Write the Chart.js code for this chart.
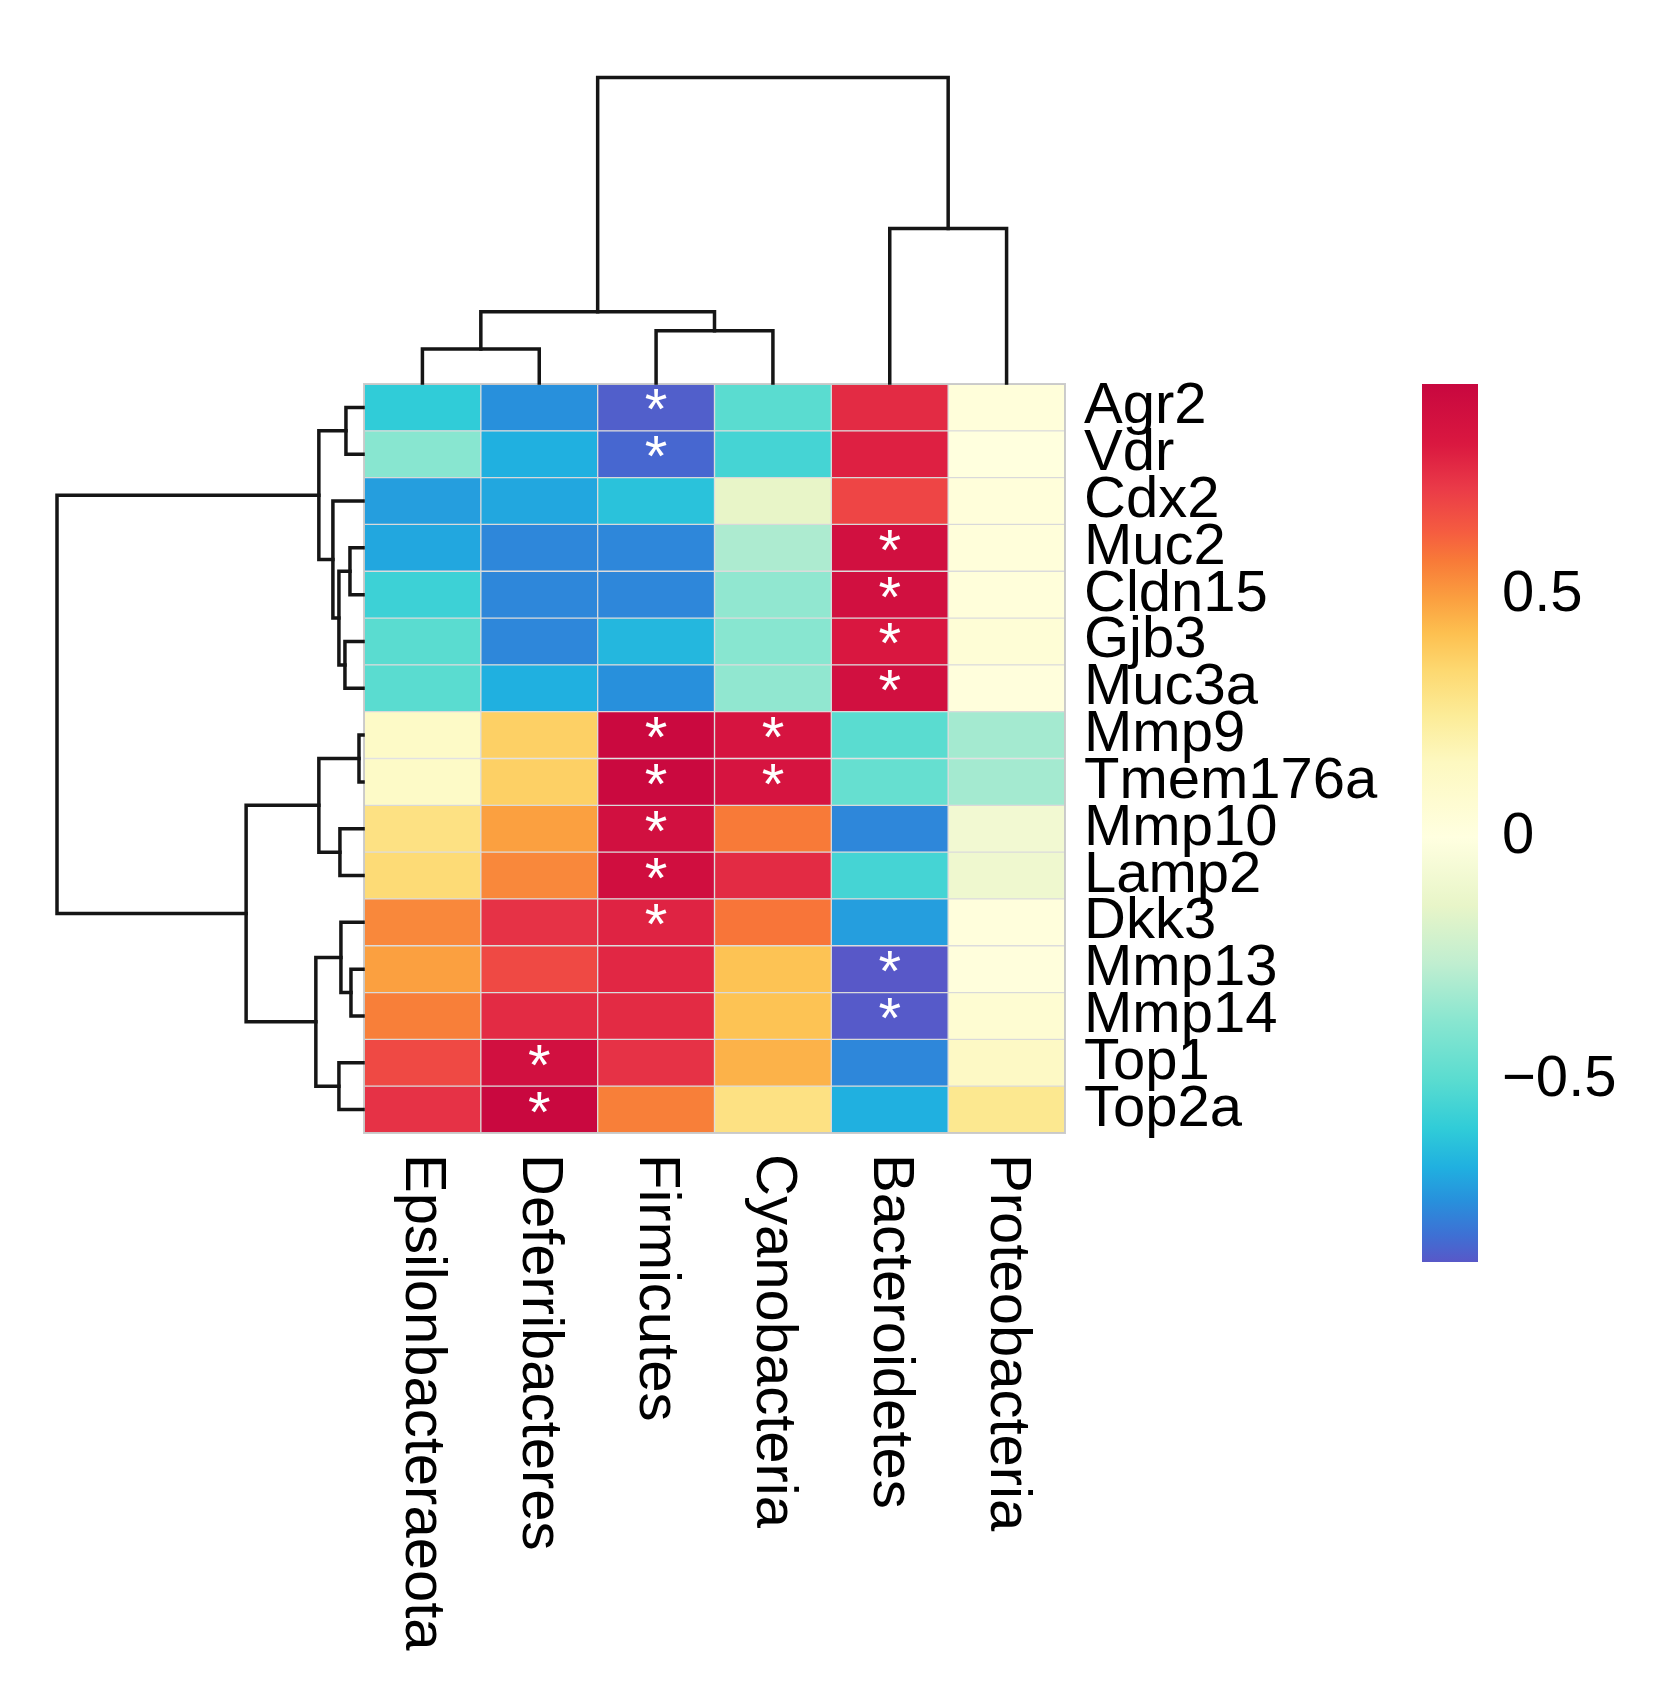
<!DOCTYPE html>
<html>
<head>
<meta charset="utf-8">
<script src="https://cdn.jsdelivr.net/npm/chart.js@4.4.1/dist/chart.umd.min.js"></script>
<style>
  html, body { margin: 0; padding: 0; background: #fff; }
  #wrap { position: relative; width: 1660px; height: 1687px; background: #fff; }
  #wrap canvas { position: absolute; left: 0; top: 0; }
</style>
</head>
<body>
<div id="wrap">
  <canvas id="heat" width="1660" height="1687"></canvas>
  <canvas id="colTree" width="1660" height="1687"></canvas>
  <canvas id="rowTree" width="1660" height="1687"></canvas>
  <canvas id="scaleBar" width="1660" height="1687"></canvas>
</div>
<script>
const FONT = '"Liberation Sans", Arial, Helvetica, sans-serif';
const FSIZE = 58;

const phyla = ['Epsilonbacteraeota', 'Deferribacteres', 'Firmicutes', 'Cyanobacteria', 'Bacteroidetes', 'Proteobacteria'];
const genes = ['Agr2', 'Vdr', 'Cdx2', 'Muc2', 'Cldn15', 'Gjb3', 'Muc3a', 'Mmp9', 'Tmem176a', 'Mmp10', 'Lamp2', 'Dkk3', 'Mmp13', 'Mmp14', 'Top1', 'Top2a'];

// correlation of each phylum with each gene (gene order as above)
const epsilonbacteraeota = [-0.60, -0.38, -0.72, -0.70, -0.57, -0.50, -0.50, 0.12, 0.12, 0.30, 0.33, 0.54, 0.49, 0.56, 0.68, 0.74];
const deferribacteres    = [-0.75, -0.68, -0.70, -0.77, -0.77, -0.77, -0.68, 0.37, 0.37, 0.49, 0.54, 0.74, 0.68, 0.76, 0.87, 0.93];
const firmicutes         = [-0.86, -0.84, -0.63, -0.77, -0.77, -0.66, -0.75, 0.92, 0.92, 0.87, 0.88, 0.78, 0.77, 0.76, 0.74, 0.56];
const cyanobacteria      = [-0.50, -0.55, -0.14, -0.30, -0.36, -0.38, -0.36, 0.84, 0.84, 0.57, 0.76, 0.58, 0.41, 0.41, 0.45, 0.30];
const bacteroidetes      = [0.76, 0.79, 0.69, 0.87, 0.87, 0.82, 0.87, -0.50, -0.47, -0.77, -0.55, -0.72, -0.875, -0.87, -0.77, -0.68];
const proteobacteria     = [0.03, 0.01, 0.03, 0.03, 0.03, 0.05, 0.02, -0.32, -0.32, -0.08, -0.10, 0.02, 0.02, 0.07, 0.13, 0.27];
const columns = [epsilonbacteraeota, deferribacteres, firmicutes, cyanobacteria, bacteroidetes, proteobacteria];

// significant cells (gene, phylum)
const stars = [
  ['Agr2', 'Firmicutes'], ['Vdr', 'Firmicutes'],
  ['Muc2', 'Bacteroidetes'], ['Cldn15', 'Bacteroidetes'], ['Gjb3', 'Bacteroidetes'], ['Muc3a', 'Bacteroidetes'],
  ['Mmp9', 'Firmicutes'], ['Mmp9', 'Cyanobacteria'], ['Tmem176a', 'Firmicutes'], ['Tmem176a', 'Cyanobacteria'],
  ['Mmp10', 'Firmicutes'], ['Lamp2', 'Firmicutes'], ['Dkk3', 'Firmicutes'],
  ['Mmp13', 'Bacteroidetes'], ['Mmp14', 'Bacteroidetes'],
  ['Top1', 'Deferribacteres'], ['Top2a', 'Deferribacteres']
];

// clustering (hclust style: negative = leaf, positive = earlier merge)
const colMerge = [[-1, -2], [-3, -4], [1, 2], [-5, -6], [3, 4]];
const colHeights = [34, 52, 71, 154, 304.5];
const rowMerge = [[-1, -2], [-4, -5], [-6, -7], [2, 3], [-3, 4], [1, 5], [-8, -9], [-10, -11], [7, 8],
                  [-13, -14], [-12, 10], [-15, -16], [11, 12], [9, 13], [6, 14]];
const rowHeights = [17, 13, 18, 24, 30, 44, 4, 23, 44, 12, 22, 24, 47, 116.5, 305];

// colour key
const cbMin = -0.875, cbMax = 0.934;
const scaleTicks = [-0.5, 0, 0.5];
const paletteValues = [-0.875, -0.82, -0.75, -0.68, -0.60, -0.50, -0.38, -0.26, -0.14, 0, 0.155, 0.25, 0.345, 0.42, 0.49, 0.57, 0.63, 0.72, 0.81, 0.934];
const paletteColors = ['#5858c8', '#3e70d4', '#2890dc', '#20b0e0', '#30ccd8', '#5adcd0', '#88e6d0', '#c0eed0', '#e8f5c8', '#ffffe0',
                       '#fdf8c0', '#fcec98', '#fdd870', '#fdc050', '#fba040', '#f87a38', '#f55c40', '#ea3a48', '#da1840', '#c8073f'];

function hexRgb(h) { return [1, 3, 5].map(i => parseInt(h.slice(i, i + 2), 16)); }

function colorFor(v) {
  if (v <= paletteValues[0]) return paletteColors[0];
  for (let i = 1; i < paletteValues.length; i++) {
    if (v <= paletteValues[i]) {
      const t = (v - paletteValues[i - 1]) / (paletteValues[i] - paletteValues[i - 1]);
      const a = hexRgb(paletteColors[i - 1]), b = hexRgb(paletteColors[i]);
      const c = a.map((x, k) => Math.round(x + (b[k] - x) * t));
      return `rgb(${c[0]},${c[1]},${c[2]})`;
    }
  }
  return paletteColors[paletteColors.length - 1];
}

// U-shaped segments of a dendrogram, in (position, height) pairs
function treeSegments(merge, heights, horizontal) {
  const pos = [];
  const info = n => n < 0 ? { p: -n - 1 + 0.5, h: 0 } : { p: pos[n - 1], h: heights[n - 1] };
  return merge.map(([a, b], k) => {
    const A = info(a), B = info(b), H = heights[k];
    pos[k] = (A.p + B.p) / 2;
    const pts = [[A.p, A.h], [A.p, H], [B.p, H], [B.p, B.h]];
    return {
      data: pts.map(([p, h]) => horizontal ? { x: h, y: p } : { x: p, y: h }),
      showLine: true, fill: false, pointRadius: 0, borderColor: '#151515', borderWidth: 3.5,
      borderJoinStyle: 'miter', borderCapStyle: 'square', clip: false
    };
  });
}

const baseOpts = {
  responsive: false, animation: false, devicePixelRatio: 1,
  plugins: { legend: { display: false }, tooltip: { enabled: false } }
};

const cellMarks = {
  id: 'cellMarks',
  afterDatasetsDraw(chart) {
    const { ctx, chartArea, scales: { x, y } } = chart;
    ctx.save();
    ctx.strokeStyle = 'rgba(200,200,200,0.9)';
    ctx.lineWidth = 2;
    ctx.strokeRect(chartArea.left, chartArea.top, chartArea.right - chartArea.left, chartArea.bottom - chartArea.top);
    ctx.fillStyle = '#ffffff';
    ctx.font = `${FSIZE}px ${FONT}`;
    ctx.textAlign = 'center';
    ctx.textBaseline = 'alphabetic';
    stars.forEach(([g, p]) => {
      const cx = x.getPixelForValue(phyla.indexOf(p) + 0.5);
      const cy = y.getPixelForValue(genes.indexOf(g));
      ctx.fillText('*', cx, cy + 22);
    });
    ctx.restore();
  },
  afterDraw(chart) {
    const { ctx, chartArea, scales: { x } } = chart;
    ctx.save();
    ctx.fillStyle = '#000';
    ctx.font = `${FSIZE}px ${FONT}`;
    ctx.textAlign = 'left';
    ctx.textBaseline = 'middle';
    phyla.forEach((p, c) => {
      ctx.save();
      ctx.translate(x.getPixelForValue(c + 0.5), chartArea.bottom + 21);
      ctx.rotate(Math.PI / 2);
      ctx.fillText(p, 0, 0);
      ctx.restore();
    });
    ctx.restore();
  }
};

new Chart(document.getElementById('heat'), {
  type: 'bar',
  data: {
    labels: genes,
    datasets: phyla.map((p, c) => ({
      label: p,
      data: genes.map(() => [c, c + 1]),
      backgroundColor: columns[c].map(colorFor),
      borderColor: 'rgba(212,212,212,0.8)',
      borderWidth: 1,
      borderSkipped: false,
      grouped: false,
      barPercentage: 1,
      categoryPercentage: 1
    }))
  },
  options: {
    ...baseOpts,
    indexAxis: 'y',
    layout: { padding: { left: 364, top: 384, right: 175, bottom: 554 } },
    scales: {
      x: { type: 'linear', min: 0, max: 6, display: false },
      y: {
        type: 'category', position: 'right', offset: true,
        grid: { display: false }, border: { display: false },
        ticks: { autoSkip: false, padding: 11, color: '#000', font: { family: FONT, size: FSIZE } },
        afterFit: s => { s.width = 420; }
      }
    }
  },
  plugins: [cellMarks]
});

new Chart(document.getElementById('colTree'), {
  type: 'scatter',
  data: { datasets: treeSegments(colMerge, colHeights, false) },
  options: {
    ...baseOpts,
    layout: { padding: { left: 364, right: 595, top: 77.5, bottom: 1304 } },
    scales: {
      x: { type: 'linear', min: 0, max: 6, display: false },
      y: { type: 'linear', min: 0, max: 304.5, display: false }
    }
  }
});

new Chart(document.getElementById('rowTree'), {
  type: 'scatter',
  data: { datasets: treeSegments(rowMerge, rowHeights, true) },
  options: {
    ...baseOpts,
    layout: { padding: { left: 57, right: 1297, top: 384, bottom: 554 } },
    scales: {
      x: { type: 'linear', min: 0, max: 305, reverse: true, display: false },
      y: { type: 'linear', min: 0, max: 16, reverse: true, display: false }
    }
  }
});

new Chart(document.getElementById('scaleBar'), {
  type: 'bar',
  data: {
    labels: [''],
    datasets: [{
      data: [[cbMin, cbMax]],
      backgroundColor: context => {
        const chart = context.chart;
        if (!chart.chartArea) return paletteColors[0];
        const y = chart.scales.y;
        const g = chart.ctx.createLinearGradient(0, y.getPixelForValue(cbMin), 0, y.getPixelForValue(cbMax));
        paletteValues.forEach((v, i) => g.addColorStop((v - cbMin) / (cbMax - cbMin), paletteColors[i]));
        return g;
      },
      borderWidth: 0,
      barPercentage: 1,
      categoryPercentage: 1
    }]
  },
  options: {
    ...baseOpts,
    layout: { padding: { left: 1422, right: 12, top: 384, bottom: 425 } },
    scales: {
      x: { display: false },
      y: {
        type: 'linear', min: cbMin, max: cbMax, position: 'right',
        grid: { display: false }, border: { display: false },
        ticks: {
          padding: 16, color: '#000', font: { family: FONT, size: FSIZE },
          callback: v => v === 0 ? '0' : (v < 0 ? '\u2212' : '') + Math.abs(v)
        },
        afterBuildTicks: s => { s.ticks = scaleTicks.map(v => ({ value: v })); },
        afterFit: s => { s.width = 170; }
      }
    }
  }
});
</script>
</body>
</html>
